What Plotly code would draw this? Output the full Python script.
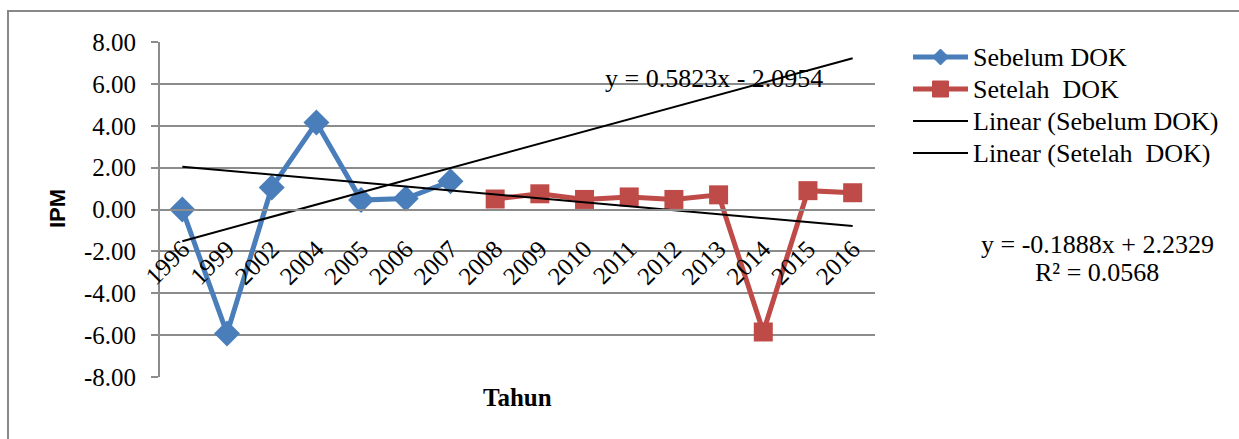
import plotly.graph_objects as go

years = ["1996", "1999", "2002", "2004", "2005", "2006", "2007", "2008",
         "2009", "2010", "2011", "2012", "2013", "2014", "2015", "2016"]
sebelum = [0.00, -5.92, 1.05, 4.15, 0.45, 0.52, 1.35]
setelah = [0.50, 0.75, 0.48, 0.60, 0.48, 0.70, -5.85, 0.90, 0.80]
trend_sebelum = (0.5823, -2.0954)
trend_setelah = (-0.1888, 2.2329)
r2_setelah = 0.0568
yticks = [8, 6, 4, 2, 0, -2, -4, -6, -8]
legend_names = ["Sebelum DOK", "Setelah  DOK", "Linear (Sebelum DOK)", "Linear (Setelah  DOK)"]

idx = list(range(1, len(years) + 1))
x_seb = idx[:len(sebelum)]
x_set = idx[len(sebelum):]

W, H = 1239, 439
L, R, T, B = 160, 875, 42, 377

def px(x):
    return (x - L) / (R - L)

def py(y):
    return (B - y) / (B - T)

SERIF = "Liberation Serif, Times New Roman, serif"
BLUE = "#4A7EBB"
RED = "#BE4B48"
GRID = "#8C8C8C"
FS = 25

fig = go.Figure()
fig.add_trace(go.Scatter(
    x=x_seb, y=sebelum, name=legend_names[0], mode="lines+markers",
    line=dict(color=BLUE, width=5),
    marker=dict(symbol="diamond", size=20, color=BLUE)))
fig.add_trace(go.Scatter(
    x=x_set, y=setelah, name=legend_names[1], mode="lines+markers",
    line=dict(color=RED, width=5),
    marker=dict(symbol="square", size=19, color=RED)))

xe = [idx[0], idx[-1]]
fig.add_trace(go.Scatter(
    x=xe, y=[trend_sebelum[0] * v + trend_sebelum[1] for v in xe],
    name=legend_names[2], mode="lines",
    line=dict(color="black", width=2)))
fig.add_trace(go.Scatter(
    x=xe, y=[trend_setelah[0] * v + trend_setelah[1] for v in xe],
    name=legend_names[3], mode="lines",
    line=dict(color="black", width=2)))

fig.update_layout(
    width=W, height=H,
    margin=dict(l=L, r=W - R, t=T, b=H - B, pad=0),
    paper_bgcolor="white", plot_bgcolor="white",
    font=dict(family=SERIF, size=FS, color="black"),
    showlegend=False,
    xaxis=dict(range=[0.5, len(years) + 0.5], tickmode="array",
               tickvals=idx, ticktext=years, tickangle=-45,
               anchor="free", position=0.5,
               showgrid=False, zeroline=False,
               showline=True, linecolor=GRID, linewidth=2,
               ticks="", ticklabelstandoff=14,
               tickfont=dict(family=SERIF, size=FS, color="black"),
               automargin=False),
    yaxis=dict(range=[-8, 8], tickmode="array", tickvals=yticks,
               ticktext=[f"{v:.2f}" for v in yticks],
               showgrid=True, gridcolor=GRID, gridwidth=2,
               zeroline=False, showline=True, linecolor=GRID, linewidth=2,
               ticks="outside", ticklen=7, tickcolor=GRID, tickwidth=2,
               ticklabelstandoff=10,
               tickfont=dict(family=SERIF, size=FS, color="black"),
               automargin=False),
)

def ann(x, y, text, font, **kw):
    fig.add_annotation(x=px(x), y=py(y), xref="paper", yref="paper",
                       text=text, showarrow=False, font=font,
                       xanchor=kw.pop("xanchor", "center"),
                       yanchor=kw.pop("yanchor", "middle"), **kw)

ann(57, 209, "<b>IPM</b>", dict(family="Liberation Sans, Arial, sans-serif", size=22, color="black"),
    textangle=-90)
ann(517, 397, "<b>Tahun</b>", dict(family=SERIF, size=FS, color="black"))
ann(714, 78, f"y = {trend_sebelum[0]:.4f}x - {abs(trend_sebelum[1]):.4f}",
    dict(family=SERIF, size=26, color="black"))
ann(1097, 245, f"y = {trend_setelah[0]:.4f}x + {trend_setelah[1]:.4f}",
    dict(family=SERIF, size=26, color="black"))
ann(1097, 272, f"R² = {r2_setelah:.4f}", dict(family=SERIF, size=26, color="black"))

# custom legend (Excel-style long line samples)
leg_y = [57, 89, 121, 153]
leg_colors = [BLUE, RED, "black", "black"]
leg_widths = [5, 5, 2, 2]
lx0, lx1 = 913, 968
cx = (lx0 + lx1) / 2
for i, name in enumerate(legend_names):
    yy = leg_y[i]
    fig.add_shape(type="line", xref="paper", yref="paper",
                  x0=px(lx0), x1=px(lx1), y0=py(yy), y1=py(yy),
                  line=dict(color=leg_colors[i], width=leg_widths[i]))
    ann(971, yy, name, dict(family=SERIF, size=26, color="black"), xanchor="left")
# diamond marker sample
d = 8
fig.add_shape(type="path", xref="paper", yref="paper",
              path=(f"M {px(cx - d)} {py(leg_y[0])} L {px(cx)} {py(leg_y[0] - d)} "
                    f"L {px(cx + d)} {py(leg_y[0])} L {px(cx)} {py(leg_y[0] + d)} Z"),
              fillcolor=BLUE, line=dict(color=BLUE, width=1))
# square marker sample
s = 8
fig.add_shape(type="rect", xref="paper", yref="paper",
              x0=px(cx - s), x1=px(cx + s), y0=py(leg_y[1] - s), y1=py(leg_y[1] + s),
              fillcolor=RED, line=dict(color=RED, width=1))

fig.add_shape(type="rect", xref="paper", yref="paper",
              x0=px(8), x1=px(1300), y0=py(11), y1=py(470),
              line=dict(color="#888888", width=2), fillcolor="rgba(0,0,0,0)",
              layer="below")

fig.write_html("out.html")
